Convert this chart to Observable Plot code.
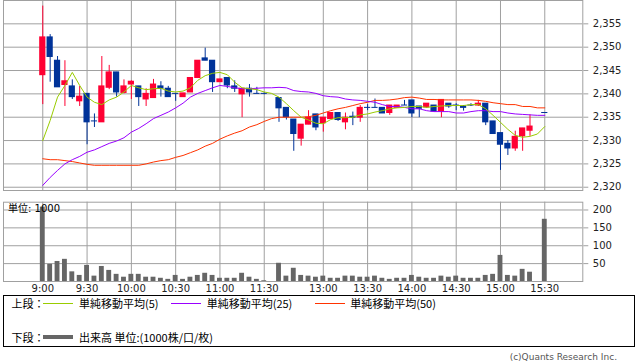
<!DOCTYPE html>
<html><head><meta charset="utf-8">
<script src="https://cdn.jsdelivr.net/npm/d3@7"></script>
<script src="https://cdn.jsdelivr.net/npm/@observablehq/plot@0.6"></script>
<style>
html,body{margin:0;padding:0;background:#fff;}
#wrap{position:relative;width:638px;height:362px;overflow:hidden;font-family:"DejaVu Sans","Noto Sans CJK JP",sans-serif;}
#top,#vol{position:absolute;left:0;}
#top{top:0;} #vol{top:195px;}
#unit{position:absolute;left:8px;top:203px;font-size:10px;line-height:12px;color:#000;font-family:"DejaVu Sans","Noto Sans CJK JP",sans-serif;}
#legend{position:absolute;left:3px;top:295px;width:632px;height:52px;border:1px solid #000;box-sizing:border-box;font-family:"Noto Sans CJK JP",sans-serif;font-size:11px;color:#000;}
#legend span{position:absolute;line-height:14px;white-space:nowrap;}
#legend i{position:absolute;display:block;}
#copy{position:absolute;right:21px;top:351px;font-size:9px;line-height:13px;color:#555;font-family:"DejaVu Sans",sans-serif;}
</style></head>
<body>
<div id="wrap">
  <div id="top"></div>
  <div id="vol"></div>
  <div id="unit">単位: 1000</div>
  <div id="legend"></div>
  <div id="copy">(c)Quants Research Inc.</div>
</div>
<script>
// ---- time slots (x categories) ----
const slots = ["9:00","9:05","9:10","9:15","9:20","9:25","9:30","9:35","9:40","9:45","9:50","9:55",
"10:00","10:05","10:10","10:15","10:20","10:25","10:30","10:35","10:40","10:45","10:50","10:55",
"11:00","11:05","11:10","11:15","11:20","11:25","11:30","—",
"12:30","12:35","12:40","12:45","12:50","12:55","13:00","13:05","13:10","13:15","13:20","13:25",
"13:30","13:35","13:40","13:45","13:50","13:55","14:00","14:05","14:10","14:15","14:20","14:25",
"14:30","14:35","14:40","14:45","14:50","14:55","15:00","15:05","15:10","15:15","15:20","15:25","15:30"];
const tickLabels = ["9:00","9:30","10:00","10:30","11:00","11:30","13:00","13:30","14:00","14:30","15:00","15:30"];
const priceTicks = [2320,2325,2330,2335,2340,2345,2350,2355];
const volTicks = [50,100,150,200];

// ---- candles ----
const candleTimes = slots.filter(t => t !== "—" && t !== "15:25");
const opens = [2344.0,2352.1,2347.1,2341.9,2341.6,2338.4,2340.0,2334.1,2333.9,2341.3,2344.6,2340.2,2342.0,2341.6,2338.8,2339.1,2341.6,2341.1,2340.0,2339.3,2340.3,2343.4,2347.6,2347.1,2342.5,2343.4,2341.6,2339.9,2341.1,2340.0,2340.0,
2339.1,2337.0,2334.5,2330.4,2333.4,2335.6,2333.7,2334.6,2335.9,2333.9,2335.1,2334.9,2337.0,2337.0,2337.0,2335.9,2337.0,2337.5,2338.6,2337.3,2337.1,2337.5,2336.2,2337.9,2337.5,2337.3,2337.5,2337.5,2337.9,2334.1,2331.6,2329.3,2328.3,2330.9,2332.1,
2335.9];
const highs = [2358.8,2352.7,2348.0,2347.1,2343.0,2341.6,2340.0,2335.7,2348.0,2346.1,2344.6,2343.0,2342.8,2341.6,2341.1,2343.1,2342.6,2341.6,2340.0,2340.1,2343.4,2347.1,2349.8,2347.1,2343.1,2343.4,2342.8,2341.1,2342.0,2341.4,2340.2,
2339.1,2337.0,2334.5,2333.4,2336.4,2335.6,2334.9,2335.9,2335.9,2335.9,2336.1,2337.5,2337.7,2338.9,2337.0,2337.5,2337.5,2338.6,2338.6,2337.3,2337.9,2337.5,2338.7,2337.9,2337.9,2337.5,2337.9,2338.6,2337.9,2334.1,2331.6,2330.0,2332.0,2332.6,2335.5,
2336.0];
const lows = [2337.7,2342.5,2341.4,2337.3,2338.8,2337.3,2329.1,2332.8,2333.9,2340.9,2339.3,2340.0,2338.8,2337.3,2337.3,2339.1,2339.3,2339.3,2338.4,2339.3,2340.3,2343.4,2347.1,2340.3,2342.5,2341.1,2340.3,2334.9,2339.3,2340.0,2339.8,
2333.9,2334.4,2327.7,2328.8,2333.4,2332.1,2331.8,2334.6,2334.1,2332.3,2333.2,2333.9,2336.4,2337.0,2335.8,2335.4,2337.0,2337.5,2334.9,2334.9,2336.9,2336.2,2334.9,2336.9,2336.4,2336.3,2337.3,2337.3,2333.2,2331.4,2323.6,2326.8,2327.7,2327.7,2330.9,
2335.9];
const closes = [2352.1,2347.9,2341.4,2342.7,2339.3,2339.4,2333.9,2334.1,2341.6,2344.6,2340.3,2341.6,2342.6,2339.3,2340.0,2342.0,2341.1,2339.3,2340.0,2340.1,2343.4,2347.1,2347.1,2342.5,2343.1,2341.8,2341.1,2341.1,2340.3,2340.0,2340.0,
2336.9,2335.0,2331.4,2333.4,2334.9,2332.8,2334.9,2335.9,2334.4,2334.9,2334.9,2337.0,2337.0,2337.0,2335.8,2337.5,2337.5,2337.5,2335.8,2336.8,2337.9,2336.2,2338.7,2337.3,2337.5,2337.0,2337.5,2337.9,2333.9,2331.4,2329.1,2328.3,2330.8,2332.6,2333.0,
2335.9];
const volumes = [208,48,56,62,27,17,45,15,42,31,20,12,20,20,12,12,9,6,17,6,12,17,23,17,9,9,9,23,12,6,2,
51,15,37,17,15,12,15,9,9,15,15,12,12,15,9,6,9,9,17,12,9,9,15,12,15,9,9,9,17,20,73,17,15,34,26,
174];

// ---- moving averages (one value per slot) ----
const ma5 = [2330.0,2334.3,2339.3,2341.8,2344.6,2341.8,2339.3,2338.2,2337.7,2338.7,
2339.3,2340.4,2341.8,2341.3,2340.9,2341.1,2341.2,2340.6,2340.4,2340.6,
2341.3,2342.9,2343.9,2344.4,2344.6,2344.1,2342.5,2341.3,2341.1,2340.9,
2340.4,2340.1,2339.3,2337.9,2336.4,2335.0,2334.4,2333.7,2333.6,2334.5,
2334.9,2334.9,2335.0,2335.5,2335.7,2336.1,2336.4,2336.8,2337.0,2337.1,
2337.3,2337.3,2337.1,2337.3,2337.4,2337.5,2337.5,2337.5,2337.7,2337.7,
2336.8,2335.4,2333.9,2332.4,2331.1,2330.7,2330.9,2331.4,2333.0];
const ma25 = [2320.4,2322.1,2323.6,2325.0,2325.9,2326.6,2327.5,2328.0,2328.7,2329.4,
2329.9,2330.6,2331.8,2332.6,2333.6,2334.7,2335.4,2336.1,2337.0,2338.0,
2339.3,2340.1,2340.7,2341.3,2341.8,2341.6,2341.3,2341.1,2341.1,2341.2,
2341.3,2341.3,2341.4,2341.3,2340.7,2340.5,2340.4,2340.1,2339.6,2339.4,
2339.3,2338.9,2338.7,2338.6,2338.4,2338.2,2337.7,2337.3,2337.3,2337.1,
2336.8,2336.8,2336.4,2336.2,2336.2,2336.2,2335.9,2335.9,2336.2,2336.4,
2336.4,2336.2,2336.2,2335.9,2335.7,2335.6,2335.5,2335.4,2335.4];
const ma50 = [2326.1,2325.9,2325.9,2325.7,2325.5,2325.2,2324.9,2324.7,2324.7,2324.7,
2324.7,2324.7,2324.7,2324.7,2325.0,2325.4,2325.7,2325.9,2326.4,2326.8,
2327.4,2328.0,2328.8,2329.4,2330.3,2331.0,2331.6,2332.1,2332.9,2333.4,
2334.1,2334.7,2335.0,2335.0,2335.0,2335.0,2335.1,2335.4,2335.9,2336.4,
2336.8,2337.1,2337.5,2337.9,2338.2,2338.6,2338.6,2338.7,2338.9,2339.2,
2339.3,2339.1,2338.8,2338.8,2338.7,2338.7,2338.7,2338.7,2338.7,2338.6,
2338.4,2338.1,2337.9,2337.7,2337.7,2337.3,2337.3,2337.0,2337.0];

// ---- styles ----
const GRID = "#a0a0a0";
const UP = "#ff0033", DOWN = "#003399";
const C5 = "#99cc00", C25 = "#9900ff", C50 = "#ff3300", VOLC = "#666666";

// ---- build rows ----
const slotOf = t => slots.indexOf(t);
const candles = candleTimes.map((t, k) => ({slot: slotOf(t), o: opens[k], h: highs[k], l: lows[k], c: closes[k], v: volumes[k]}));
const maRows = slots.map((t, k) => ({slot: k, ma5: ma5[k], ma25: ma25[k], ma50: ma50[k]}));
const tickSlots = tickLabels.map(slotOf);
const xDomain = [-5.32, 73.15];
const col = d => d.c > d.o ? UP : DOWN;
const axisStyle = {fontFamily: "DejaVu Sans", fontSize: "10px", color: "#222", background: "transparent", overflow: "visible"};

const topChart = Plot.plot({
  width: 638, height: 192,
  marginLeft: 3, marginRight: 55.7, marginTop: 0, marginBottom: 2,
  style: axisStyle,
  x: {type: "linear", domain: xDomain, axis: null},
  y: {domain: [2319.3, 2360]},
  marks: [
    Plot.gridY(priceTicks, {stroke: GRID, strokeOpacity: 1}),
    Plot.gridX(tickSlots, {stroke: GRID, strokeOpacity: 1}),
    Plot.ruleX(candles, {x: "slot", y1: "l", y2: "h", stroke: col, strokeWidth: 1}),
    Plot.rect(candles, {x1: d => d.slot - 0.42, x2: d => d.slot + 0.42, y1: "o", y2: "c", fill: col, insetTop: -0.5, insetBottom: -0.5}),
    Plot.line(maRows, {x: "slot", y: "ma50", stroke: C50, strokeWidth: 1}),
    Plot.line(maRows, {x: "slot", y: "ma25", stroke: C25, strokeWidth: 1}),
    Plot.line(maRows, {x: "slot", y: "ma5", stroke: C5, strokeWidth: 1}),
    Plot.frame({stroke: GRID}),
    Plot.axisY(priceTicks, {anchor: "right", tickSize: 5, tickPadding: 5, tickFormat: d3.format(","), stroke: GRID, fill: "#222", label: null})
  ]
});
document.getElementById("top").append(topChart);

const volChart = Plot.plot({
  width: 638, height: 105,
  marginLeft: 3, marginRight: 55.7, marginTop: 6.7, marginBottom: 19,
  style: axisStyle,
  x: {type: "linear", domain: xDomain},
  y: {domain: [0, 221.8]},
  marks: [
    Plot.gridY(volTicks, {stroke: GRID, strokeOpacity: 1}),
    Plot.gridX(tickSlots, {stroke: GRID, strokeOpacity: 1}),
    Plot.rect(candles, {x1: d => d.slot - 0.33, x2: d => d.slot + 0.33, y1: 0, y2: "v", fill: VOLC}),
    Plot.frame({stroke: GRID}),
    Plot.axisY(volTicks, {anchor: "right", tickSize: 5, tickPadding: 5, stroke: GRID, fill: "#222", label: null}),
    Plot.axisX(tickSlots, {anchor: "bottom", tickSize: 0, tickPadding: 3, tickFormat: i => slots[i], fill: "#222", label: null})
  ]
});
document.getElementById("vol").append(volChart);

// ---- legend ----
const legendItems = [
  {row: 0, prefix: "上段：", color: C5, w: 1, text: "単純移動平均(5)", lx: 39, tx: 75},
  {row: 0, prefix: null, color: C25, w: 1, text: "単純移動平均(25)", lx: 167, tx: 202.7},
  {row: 0, prefix: null, color: C50, w: 1, text: "単純移動平均(50)", lx: 311, tx: 346.3},
  {row: 1, prefix: "下段：", color: VOLC, w: 4, text: "出来高 単位:(1000株/口/枚)", lx: 39, tx: 75}
];
const lg = document.getElementById("legend");
const rowCenters = [7.3, 40.7];
for (const it of legendItems) {
  const cy = rowCenters[it.row];
  if (it.prefix) {
    const s = document.createElement("span");
    s.textContent = it.prefix; s.style.left = "7.5px"; s.style.top = (cy - 7) + "px";
    lg.append(s);
  }
  const ln = document.createElement("i");
  ln.style.left = it.lx + "px"; ln.style.width = "30px";
  ln.style.height = it.w + "px"; ln.style.top = (cy - it.w / 2) + "px";
  ln.style.background = it.color;
  lg.append(ln);
  const t = document.createElement("span");
  t.textContent = it.text; t.style.left = it.tx + "px"; t.style.top = (cy - 7) + "px";
  lg.append(t);
}
</script>
</body></html>
